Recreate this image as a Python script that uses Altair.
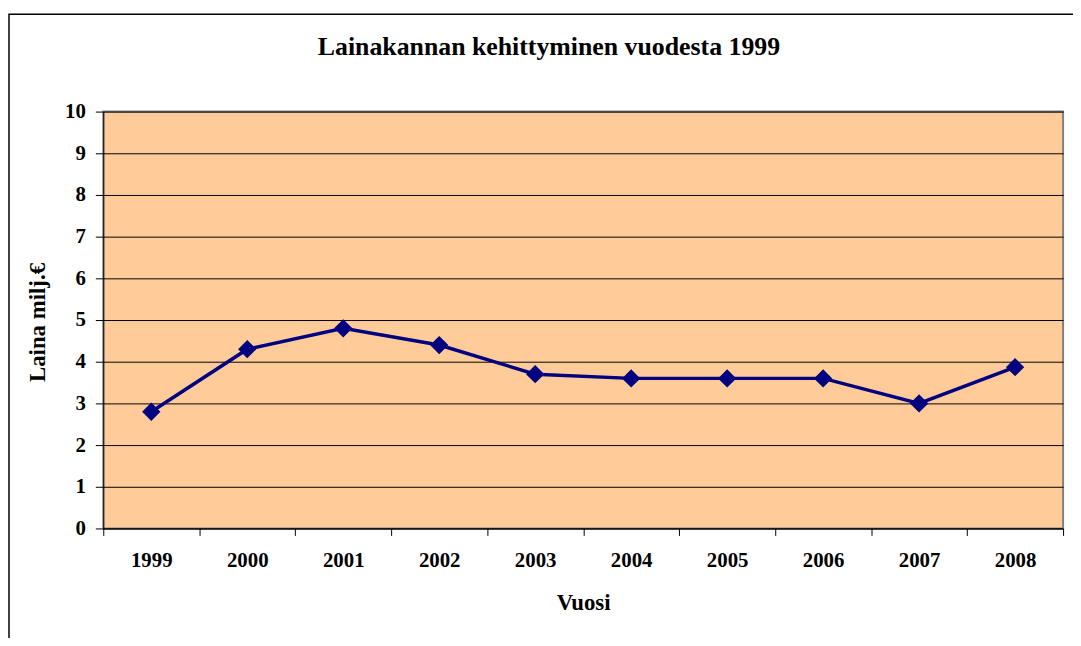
import altair as alt
import pandas as pd

years = ["1999", "2000", "2001", "2002", "2003", "2004", "2005", "2006", "2007", "2008"]
loans = [2.8, 4.3, 4.8, 4.4, 3.7, 3.6, 3.6, 3.6, 3.0, 3.87]
y_ticks = [0, 1, 2, 3, 4, 5, 6, 7, 8, 9, 10]
title_text = ["Lainakannan kehittyminen vuodesta 1999"]

df = pd.DataFrame({"Vuosi": years, "Laina": loans})

FONT = "Liberation Serif"
W, H = 967, 420

x_enc = alt.X(
    "Vuosi:O",
    sort=years,
    bandPosition=0.5,
    scale=alt.Scale(type="band", paddingInner=0, paddingOuter=0),
    axis=alt.Axis(
        title="Vuosi",
        labelAngle=0,
        tickBand="extent",
        tickSize=7,
        tickColor="#000000",
        domainColor="#000000",
        labelBaseline="alphabetic",
        labelPadding=31,
        labelFont=FONT,
        labelFontSize=21,
        labelFontWeight="bold",
        labelColor="#000000",
        titleFont=FONT,
        titleFontSize=23,
        titleFontWeight="bold",
        titleColor="#000000",
        titleX=W / 2,
        titleY=82,
        titleBaseline="alphabetic",
        titleAlign="center",
        grid=False,
    ),
)

y_enc = alt.Y(
    "Laina:Q",
    scale=alt.Scale(domain=[0, 10], nice=False),
    axis=alt.Axis(
        title="Laina milj.€",
        values=y_ticks,
        tickSize=8,
        tickColor="#000000",
        domainColor="#000000",
        labelPadding=10,
        labelFont=FONT,
        labelFontSize=21,
        labelFontWeight="bold",
        labelColor="#000000",
        titleFont=FONT,
        titleFontSize=23,
        titleFontWeight="bold",
        titleColor="#000000",
        titleAngle=-90,
        titleX=-66,
        titleY=212,
        titleAlign="center",
        titleBaseline="middle",
        grid=True,
        gridColor="#000000",
        gridWidth=1,
    ),
)

frame = alt.Chart(pd.DataFrame({"a": [0]})).mark_rect(
    fill="transparent", stroke="#000000", strokeWidth=1.5
).encode(
    x=alt.value(-95), x2=alt.value(1200),
    y=alt.value(-98), y2=alt.value(800),
)

title = alt.Chart(pd.DataFrame({"t": title_text})).mark_text(
    font=FONT, fontSize=26, fontWeight="bold", color="#000000",
    align="center", baseline="alphabetic",
).encode(
    text="t:N", x=alt.value(449), y=alt.value(-57),
)

line = alt.Chart(df).mark_line(color="#000080", strokeWidth=3.5).encode(x=x_enc, y=y_enc)
pts = alt.Chart(df).mark_point(
    shape="diamond", size=340, filled=True, color="#000080", opacity=1
).encode(x=x_enc, y=y_enc)

chart = alt.layer(frame, line, pts, title).properties(
    width=W,
    height=H,
    autosize=alt.AutoSizeParams(type="none"),
    padding={"left": 96, "top": 102, "right": 10, "bottom": 108},
).configure(
    background="#FFFFFF"
).configure_view(
    fill="#FFCC99", stroke="#808080", strokeWidth=2
)

chart.save("out.html", embed_options={"renderer": "svg", "actions": False})
